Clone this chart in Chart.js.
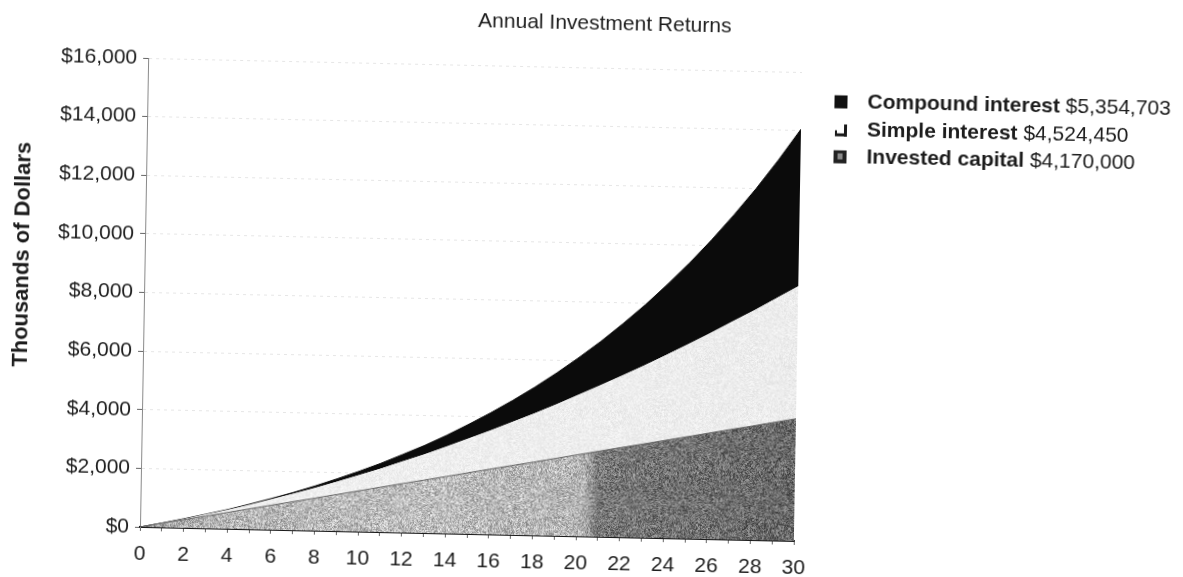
<!DOCTYPE html>
<html>
<head>
<meta charset="utf-8">
<title>Annual Investment Returns</title>
<script src="https://cdn.jsdelivr.net/npm/chart.js@4.4.1/dist/chart.umd.min.js"></script>
<style>
  html, body { margin: 0; padding: 0; background: #fff; overflow: hidden; }
  /* the printed page sits slightly askew */
  #wrap { position: relative; width: 1183px; height: 577px;
          transform: skew(-1deg, 1.23deg); transform-origin: 140px 527px; }
</style>
</head>
<body>
<div id="wrap"><canvas id="c"></canvas></div>
<script>
// Years of saving
const years = [0,1,2,3,4,5,6,7,8,9,10,11,12,13,14,15,16,17,18,19,20,21,22,23,24,25,26,27,28,29,30];

// Stacked amounts, thousands of dollars
const investedCapital  = [0,140,280,415,555,695,835,975,1110,1250,1390,1530,1670,1805,1945,2085,2225,2365,2500,2640,2780,2920,3060,3195,3335,3475,3615,3755,3890,4030,4170];
const simpleInterest   = [0,10,30,60,95,145,205,270,350,440,535,640,760,885,1020,1170,1325,1490,1665,1850,2045,2245,2460,2685,2920,3160,3415,3680,3950,4235,4524.45];
const compoundInterest = [0,0,0,5,5,15,25,40,65,95,130,175,235,300,385,485,600,735,890,1070,1275,1505,1770,2065,2400,2770,3185,3645,4160,4725,5354.703];

const seriesNames = ['Invested capital', 'Simple interest', 'Compound interest'];
const yTickValues = [0, 2000, 4000, 6000, 8000, 10000, 12000, 14000, 16000];
const xTickLabels = ['0','2','4','6','8','10','12','14','16','18','20','22','24','26','28','30'];
const chartTitle = 'Annual Investment Returns';
const yAxisTitle = 'Thousands of Dollars';

const FONT = "'Liberation Sans', Arial, Helvetica, sans-serif";
const TXT = '#1c1c1c';

const pts = arr => years.map((yr, i) => ({ x: yr, y: arr[i] }));
const dollars = v => '$' + Math.round(v).toLocaleString('en-US');

// halftone-like grain: a fixed hash of the pixel position
function grain(x, y) {
  let h = Math.imul(x, 374761393) + Math.imul(y, 668265263);
  h = Math.imul(h ^ (h >>> 13), 1274126177);
  h ^= h >>> 16;
  return ((h & 255) / 255) - 0.5;
}

// builds a full-canvas textured fill from horizontal gradient stops
const textureCache = {};
function texturedFill(key, stops, amount) {
  return function (context) {
    const chart = context.chart;
    const a = chart.chartArea;
    if (!a) return stops[0][1];
    const w = chart.canvas.width, h = chart.canvas.height;
    const id = key + ':' + w + 'x' + h + ':' + a.left + '-' + a.right;
    if (!textureCache[id]) {
      const off = document.createElement('canvas');
      off.width = w; off.height = h;
      const c = off.getContext('2d');
      const g = c.createLinearGradient(a.left, 0, a.right, 0);
      stops.forEach(([p, col]) => g.addColorStop(p, col));
      c.fillStyle = g;
      c.fillRect(0, 0, w, h);
      const img = c.getImageData(0, 0, w, h);
      const d = img.data;
      for (let y = 0; y < h; y++) {
        for (let x = 0; x < w; x++) {
          const i = (y * w + x) * 4;
          const n = grain(x, y) * amount + grain(x >> 1, y >> 1) * amount * 0.6;
          d[i] = d[i] + n; d[i + 1] = d[i + 1] + n; d[i + 2] = d[i + 2] + n;
        }
      }
      c.putImageData(img, 0, 0);
      textureCache[id] = chart.ctx.createPattern(off, 'no-repeat');
    }
    return textureCache[id];
  };
}

// grey that turns darker in the later years
const investedFill = texturedFill('invested', [
  [0, '#8e8e8e'], [0.05, '#b0b0b0'], [0.4, '#bebebe'], [0.675, '#b4b4b4'],
  [0.70, '#787878'], [1, '#686868']
], 70);
const simpleFill = texturedFill('simple', [[0, '#f0f0f0'], [1, '#ececec']], 16);

// title, axis title and the legend with bold names and plain totals
const textPlugin = {
  id: 'chartText',
  afterDraw(chart) {
    const c = chart.ctx;
    c.save();
    c.fillStyle = TXT;
    c.textBaseline = 'middle';
    c.textAlign = 'center';
    c.font = `21px ${FONT}`;
    c.fillText(chartTitle, 596, 14);

    c.save();
    c.translate(18, 257);
    c.rotate(-Math.PI / 2);
    c.font = `bold 22px ${FONT}`;
    c.fillText(yAxisTitle, 0, 0);
    c.restore();

    const rows = [
      { name: seriesNames[2], total: compoundInterest[compoundInterest.length - 1] * 1000, kind: 'solid' },
      { name: seriesNames[1], total: simpleInterest[simpleInterest.length - 1] * 1000, kind: 'open' },
      { name: seriesNames[0], total: investedCapital[investedCapital.length - 1] * 1000, kind: 'box' }
    ];
    const mx = 827, tx = 860, rowY = [87, 115, 142], s = 13;
    c.textAlign = 'left';
    rows.forEach((r, i) => {
      const y = rowY[i];
      const top = y - s / 2;
      if (r.kind === 'solid') {
        c.fillStyle = '#111';
        c.fillRect(mx, top, s, s);
      } else if (r.kind === 'open') {
        c.fillStyle = '#1a1a1a';
        c.fillRect(mx + 1, top + s - 3, s - 1, 3);
        c.fillRect(mx + s - 3, top + 1, 3, s - 1);
        c.fillRect(mx + 1, top + s - 6, 2, 4);
      } else {
        c.fillStyle = '#222';
        c.fillRect(mx, top, s, s);
        c.fillStyle = '#8a8a8a';
        c.fillRect(mx + 4, top + 3, 5, 6);
      }
      c.fillStyle = TXT;
      c.font = `bold 21px ${FONT}`;
      const label = r.name + ' ';
      c.fillText(label, tx, y);
      const w = c.measureText(label).width;
      c.font = `21px ${FONT}`;
      c.fillText(dollars(r.total), tx + w, y);
    });
    c.restore();
  }
};

new Chart(document.getElementById('c'), {
  type: 'line',
  data: {
    datasets: [
      { label: seriesNames[0], data: pts(investedCapital), fill: 'origin',
        backgroundColor: investedFill, borderColor: '#666', borderWidth: 1, pointRadius: 0 },
      { label: seriesNames[1], data: pts(simpleInterest), fill: '-1',
        backgroundColor: simpleFill, borderColor: '#e4e4e4', borderWidth: 0, pointRadius: 0 },
      { label: seriesNames[2], data: pts(compoundInterest), fill: '-1',
        backgroundColor: '#0b0b0b', borderColor: '#0b0b0b', borderWidth: 1, pointRadius: 0 }
    ]
  },
  options: {
    responsive: true,
    maintainAspectRatio: false,
    animation: false,
    layout: { padding: { top: 58, right: 389, bottom: 0, left: 0 } },
    elements: { line: { tension: 0 } },
    plugins: { legend: { display: false }, title: { display: false }, tooltip: { enabled: false } },
    scales: {
      x: {
        type: 'linear', min: 0, max: 30,
        ticks: { stepSize: 1, autoSkip: false, maxRotation: 0, padding: 11, color: TXT,
                 font: { family: FONT, size: 21 },
                 callback: v => xTickLabels.includes(String(v)) ? String(v) : '' },
        grid: { drawOnChartArea: false, drawTicks: true, tickLength: 4, tickColor: '#666' },
        border: { color: '#1a1a1a', width: 2 },
        afterFit: s => { s.height = 50; }
      },
      y: {
        stacked: true, min: 0, max: 16000,
        afterBuildTicks: s => { s.ticks = yTickValues.map(v => ({ value: v })); },
        ticks: { padding: 6, color: TXT, font: { family: FONT, size: 21 }, callback: v => dollars(v) },
        grid: { color: '#e6e6e6', lineWidth: 1, tickLength: 5, tickColor: '#666', tickWidth: 1 },
        border: { color: '#8a8a8a', width: 1, dash: [3, 4] },
        afterFit: s => { s.width = 140; }
      }
    }
  },
  plugins: [textPlugin]
});
</script>
</body>
</html>
